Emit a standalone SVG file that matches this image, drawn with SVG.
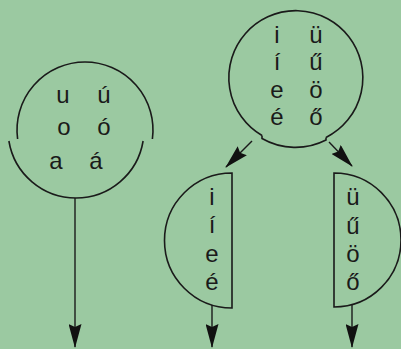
<svg xmlns="http://www.w3.org/2000/svg" width="401" height="349" viewBox="0 0 401 349">
<defs>
<style>
.ln{fill:none;stroke:#1a1a1a;stroke-width:1.6}
.t{font-family:"Liberation Sans","Noto Sans",sans-serif;font-size:24px;fill:#1a1a1a;text-anchor:middle}
.c{fill:none;stroke:#1a1a1a;stroke-width:1.4}
</style>
<marker id="ah" viewBox="0 0 24 13" refX="23" refY="6.5" markerWidth="24" markerHeight="13" markerUnits="userSpaceOnUse" orient="auto">
<path d="M0,0 L24,6.5 L0,13 L3,6.5 z" fill="#111"/>
</marker>
</defs>
<rect width="401" height="349" fill="#9bc9a1"/>
<g id="back-vowels">
<path class="ln" d="M17.6,139 A68,68 0 1 1 152.4,139"/>
<path class="ln" d="M8.9,141 A68,68 0 0 0 143.1,141"/>
<text class="t" x="63" y="103">u</text>
<text class="t" x="104" y="103">ú</text>
<text class="t" x="64" y="135">o</text>
<text class="t" x="104" y="135">ó</text>
<text class="t" x="56" y="169">a</text>
<text class="t" x="96" y="169">á</text>
</g>
<g id="front-vowels">
<path class="ln" d="M262,135.5 A67,67 0 1 1 326,137.5"/>
<path class="ln" d="M262,135.5 L262,138.5 A67,67 0 0 0 326,140 L326,137.5"/>
<text class="t" x="277" y="43">i</text>
<text class="t" x="316" y="43">ü</text>
<text class="t" x="277" y="70">í</text>
<text class="t" x="316" y="70">ű</text>
<text class="t" x="277" y="98">e</text>
<text class="t" x="316" y="98">ö</text>
<text class="t" x="277" y="125">é</text>
<text class="t" x="316" y="125">ő</text>
</g>
<g id="unrounded">
<path class="ln" d="M232,173 A67.5,67.5 0 0 0 232,308 Z"/>
<text class="t" x="212" y="205">i</text>
<text class="t" x="212" y="233">í</text>
<text class="t" x="212" y="262">e</text>
<text class="t" x="212" y="290">é</text>
</g>
<g id="rounded">
<path class="ln" d="M334,173 A67,67 0 0 1 334,307 Z"/>
<text class="t" x="353" y="205">ü</text>
<text class="t" x="353" y="234">ű</text>
<text class="t" x="353" y="262">ö</text>
<text class="t" x="353" y="290">ő</text>
</g>
<g id="connectors">
<line class="c" x1="75" y1="198" x2="75" y2="347" marker-end="url(#ah)"/>
<line class="c" x1="252" y1="141" x2="226" y2="167" marker-end="url(#ah)"/>
<line class="c" x1="329" y1="142" x2="352" y2="166" marker-end="url(#ah)"/>
<line class="c" x1="212" y1="305" x2="212" y2="347" marker-end="url(#ah)"/>
<line class="c" x1="352" y1="304.5" x2="352" y2="347" marker-end="url(#ah)"/>
</g>
</svg>
